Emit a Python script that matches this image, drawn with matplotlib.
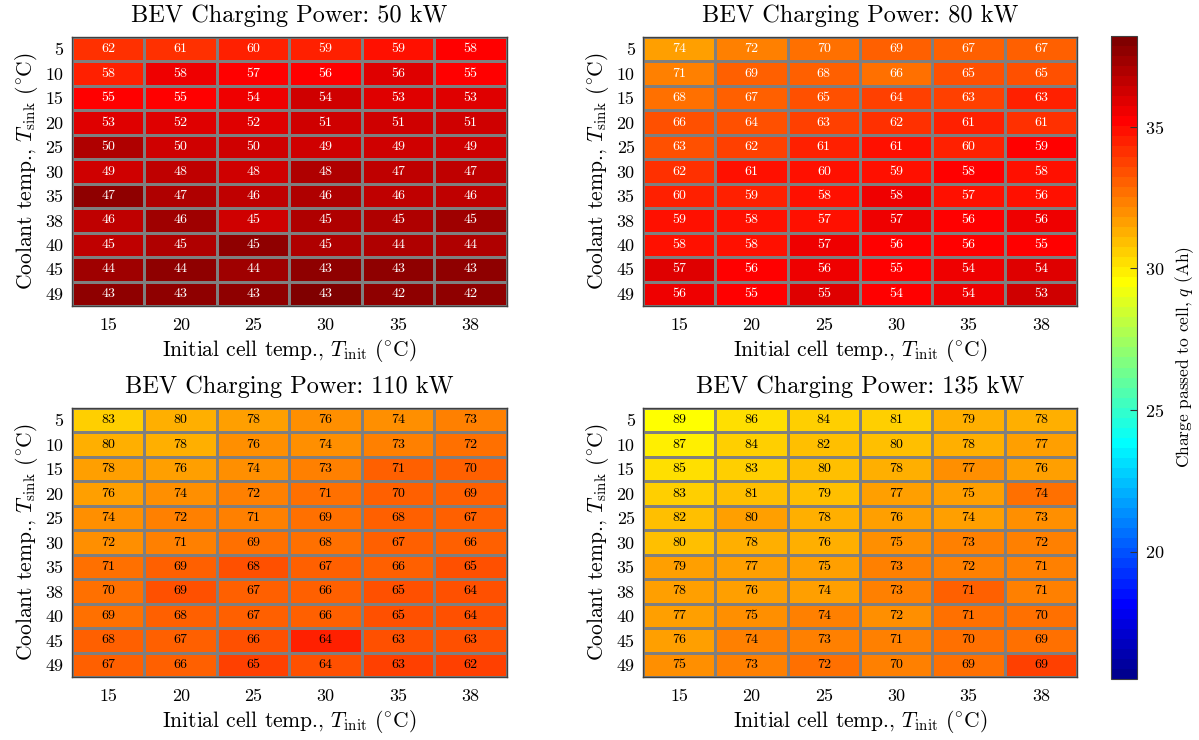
import numpy as np
import matplotlib
matplotlib.use("Agg")
import matplotlib.pyplot as plt
from matplotlib.colors import Normalize, ListedColormap

plt.rcParams['font.family'] = ['cmr10', 'DejaVu Serif']
plt.rcParams['mathtext.fontset'] = 'cm'
plt.rcParams['axes.formatter.use_mathtext'] = True

# ---------------- data ----------------
powers = [50, 80, 110, 135]
sink_temps = [5, 10, 15, 20, 25, 30, 35, 38, 40, 45, 49]
init_temps = [15, 20, 25, 30, 35, 38]

# annotated values (charging time, min)
time_50 = [[62, 61, 60, 59, 59, 58], [58, 58, 57, 56, 56, 55], [55, 55, 54, 54, 53, 53],
           [53, 52, 52, 51, 51, 51], [50, 50, 50, 49, 49, 49], [49, 48, 48, 48, 47, 47],
           [47, 47, 46, 46, 46, 46], [46, 46, 45, 45, 45, 45], [45, 45, 45, 45, 44, 44],
           [44, 44, 44, 43, 43, 43], [43, 43, 43, 43, 42, 42]]
time_80 = [[74, 72, 70, 69, 67, 67], [71, 69, 68, 66, 65, 65], [68, 67, 65, 64, 63, 63],
           [66, 64, 63, 62, 61, 61], [63, 62, 61, 61, 60, 59], [62, 61, 60, 59, 58, 58],
           [60, 59, 58, 58, 57, 56], [59, 58, 57, 57, 56, 56], [58, 58, 57, 56, 56, 55],
           [57, 56, 56, 55, 54, 54], [56, 55, 55, 54, 54, 53]]
time_110 = [[83, 80, 78, 76, 74, 73], [80, 78, 76, 74, 73, 72], [78, 76, 74, 73, 71, 70],
            [76, 74, 72, 71, 70, 69], [74, 72, 71, 69, 68, 67], [72, 71, 69, 68, 67, 66],
            [71, 69, 68, 67, 66, 65], [70, 69, 67, 66, 65, 64], [69, 68, 67, 66, 65, 64],
            [68, 67, 66, 64, 63, 63], [67, 66, 65, 64, 63, 62]]
time_135 = [[89, 86, 84, 81, 79, 78], [87, 84, 82, 80, 78, 77], [85, 83, 80, 78, 77, 76],
            [83, 81, 79, 77, 75, 74], [82, 80, 78, 76, 74, 73], [80, 78, 76, 75, 73, 72],
            [79, 77, 75, 73, 72, 71], [78, 76, 74, 73, 71, 71], [77, 75, 74, 72, 71, 70],
            [76, 74, 73, 71, 70, 69], [75, 73, 72, 70, 69, 69]]

# colour values (charge passed to cell, Ah)
charge_50 = [[34.0, 34.1, 34.5, 34.3, 34.7, 35.1], [34.6, 35.5, 35.1, 35.1, 35.8, 35.1],
             [35.1, 35.1, 35.6, 36.1, 35.8, 35.8], [35.9, 35.9, 35.8, 36.2, 36.2, 36.4],
             [36.9, 36.2, 36.4, 36.1, 36.2, 36.3], [36.4, 36.5, 36.4, 36.9, 36.5, 36.7],
             [37.7, 36.9, 36.6, 36.9, 36.7, 36.7], [36.7, 37.3, 36.4, 36.9, 36.9, 37.2],
             [36.5, 36.9, 37.6, 36.9, 37.0, 37.0], [37.3, 37.6, 37.3, 37.7, 37.6, 37.7],
             [37.6, 37.6, 37.6, 37.9, 37.6, 37.6]]
charge_80 = [[31.8, 32.3, 32.8, 33.2, 32.9, 33.1], [32.5, 33.2, 33.2, 32.7, 33.5, 33.5],
             [32.7, 33.2, 33.5, 33.6, 33.8, 34.5], [33.5, 33.5, 33.7, 34.1, 34.3, 34.1],
             [33.5, 33.8, 34.3, 34.8, 34.6, 35.1], [34.1, 34.8, 34.8, 34.8, 35.1, 34.8],
             [34.5, 34.5, 34.8, 35.6, 34.9, 34.8], [34.9, 34.8, 34.8, 35.5, 35.1, 35.5],
             [34.9, 34.8, 35.6, 35.1, 35.1, 35.1], [35.9, 35.1, 35.5, 35.1, 35.5, 35.8],
             [35.7, 35.1, 35.8, 35.1, 35.7, 36.2]]
charge_110 = [[30.5, 31.3, 31.5, 32.0, 32.0, 32.4], [31.3, 31.3, 32.0, 32.0, 32.4, 32.6],
              [31.5, 31.7, 32.1, 32.3, 32.9, 32.9], [31.5, 32.1, 32.4, 32.7, 33.2, 32.9],
              [32.1, 32.3, 32.4, 32.6, 32.9, 33.0], [32.0, 32.3, 32.6, 32.7, 33.1, 33.2],
              [32.6, 32.9, 33.3, 32.9, 33.1, 33.3], [32.7, 33.3, 33.0, 33.0, 33.3, 33.5],
              [32.7, 32.9, 33.1, 33.1, 33.3, 33.5], [32.9, 33.2, 33.3, 34.5, 33.5, 33.5],
              [33.1, 33.2, 33.8, 33.5, 33.7, 33.8]]
charge_135 = [[29.4, 30.1, 30.4, 30.4, 31.3, 31.3], [29.8, 30.5, 30.8, 30.9, 31.3, 31.5],
              [30.1, 30.4, 30.8, 31.3, 32.0, 31.5], [30.5, 30.8, 31.1, 31.6, 31.7, 32.6],
              [30.8, 31.5, 31.3, 31.5, 31.8, 32.0], [30.9, 31.3, 31.4, 31.9, 32.4, 32.3],
              [31.5, 31.5, 31.8, 32.3, 32.3, 32.4], [31.7, 31.5, 31.8, 32.4, 33.2, 32.4],
              [31.7, 32.0, 32.3, 32.0, 32.6, 32.6], [31.8, 32.4, 32.4, 32.3, 32.6, 32.6],
              [32.0, 32.4, 32.7, 32.4, 32.7, 33.7]]

charge_min, charge_max = 15.5, 38.2
text_colors = ['white', 'white', 'black', 'black']


def matlab_jet(m=64):
    n = int(np.ceil(m / 4))
    u = np.concatenate([np.arange(1, n + 1) / n, np.ones(n - 1), np.arange(n, 0, -1) / n])
    g = int(np.ceil(n / 2)) - (1 if m % 4 == 1 else 0) + np.arange(1, len(u) + 1)
    r = g + n
    b = g - n
    cols = np.zeros((m, 3))
    for idx, ch in ((r, 0), (g, 1), (b, 2)):
        mask = (idx >= 1) & (idx <= m)
        cols[idx[mask] - 1, ch] = u[mask]
    return ListedColormap(cols)


# ---------------- figure ----------------
fig = plt.figure(figsize=(11.99, 7.40), dpi=100)
cmap = matlab_jet(64)
norm = Normalize(vmin=charge_min, vmax=charge_max)

positions = [
    [0.0600, 0.5865, 0.3628, 0.3635],
    [0.5363, 0.5865, 0.3620, 0.3635],
    [0.0600, 0.0851, 0.3628, 0.3635],
    [0.5363, 0.0851, 0.3620, 0.3635],
]
times = [time_50, time_80, time_110, time_135]
charges = [charge_50, charge_80, charge_110, charge_135]

mesh = None
for k in range(4):
    ax = fig.add_axes(positions[k])
    C = np.array(charges[k])
    T = np.array(times[k])
    mesh = ax.pcolormesh(np.arange(len(init_temps) + 1), np.arange(len(sink_temps) + 1), C,
                         cmap=cmap, norm=norm, edgecolors='#7f7f7f', linewidth=0.75)
    ax.set_xlim(0, len(init_temps))
    ax.set_ylim(len(sink_temps), 0)
    for i in range(len(sink_temps)):
        for j in range(len(init_temps)):
            ax.text(j + 0.5, i + 0.5, str(T[i, j]), ha='center', va='center',
                    fontsize=10, color=text_colors[k])
    ax.set_xticks(np.arange(len(init_temps)) + 0.5)
    ax.set_xticklabels([str(v) for v in init_temps])
    ax.set_yticks(np.arange(len(sink_temps)) + 0.5)
    ax.set_yticklabels([str(v) for v in sink_temps])
    ax.tick_params(length=0, labelsize=13)
    ax.tick_params(axis='x', pad=8.5)
    ax.tick_params(axis='y', pad=6)
    for s in ax.spines.values():
        s.set_color('#404040')
        s.set_linewidth(1.0)
    ax.set_title(f'BEV Charging Power: {powers[k]} kW', fontsize=17.5, pad=11)
    ax.set_xlabel(r'Initial cell temp., $T_{\mathrm{init}}$ $(^{\circ}\mathrm{C})$', fontsize=15.5, labelpad=3)
    ax.set_ylabel(r'Coolant temp., $T_{\mathrm{sink}}$ $(^{\circ}\mathrm{C})$', fontsize=15.5, labelpad=4)

cax = fig.add_axes([0.9266, 0.0824, 0.0217, 0.869])
cb = fig.colorbar(mesh, cax=cax)
cb.set_ticks([20, 25, 30, 35])
cb.ax.tick_params(direction='in', length=5, labelsize=13, color='#333333', pad=6)
cb.outline.set_edgecolor('#404040')
cb.set_label(r'Charge passed to cell, $q$ (Ah)', fontsize=12.5, labelpad=6)

fig.savefig('out.png', dpi=100)
